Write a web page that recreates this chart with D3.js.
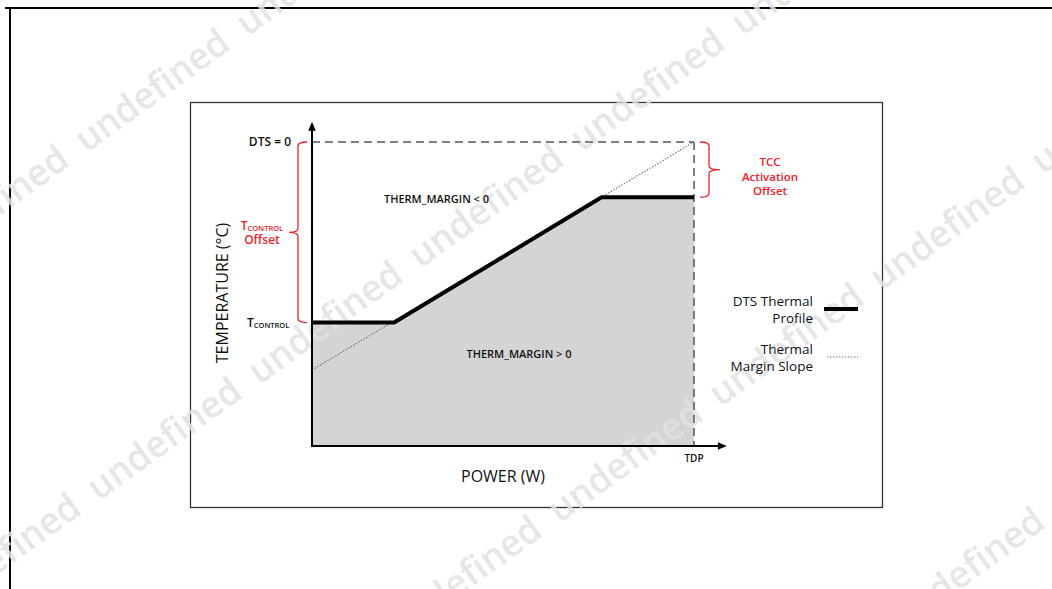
<!DOCTYPE html>
<html>
<head>
<meta charset="utf-8">
<style>
  body { margin: 0; background: #fff; }
  svg { display: block; }
  text { font-family: "Open Sans", "DejaVu Sans", sans-serif; }
</style>
</head>
<body>
<div id="chart"></div>
<script src="https://cdn.jsdelivr.net/npm/d3@7"></script>
<script>

// ---- data (power as fraction of TDP, temperature as fraction of DTS = 0) ----
var profilePower = [0, 0.215, 0.758, 1];
var profileTemp  = [0.406, 0.406, 0.818, 0.818];
var slopePower   = [0, 1];
var slopeTemp    = [0.25, 1];
var dtsZero      = 1;
var tControl     = 0.406;
var tdp          = 1;
var axisEnd      = [1.086, 1.067];   // arrow tips, x then y

var W = 1052, H = 589;

var svg = d3.select("#chart").append("svg")
    .attr("width", W)
    .attr("height", H);

// page frame
svg.append("line").attr("x1", 5).attr("x2", W).attr("y1", 8).attr("y2", 8)
    .attr("stroke", "#000").attr("stroke-width", 2.2);
svg.append("line").attr("x1", 10).attr("x2", 10).attr("y1", 8).attr("y2", H)
    .attr("stroke", "#000").attr("stroke-width", 2);

// figure box
svg.append("rect")
    .attr("x", 190.5).attr("y", 102.5)
    .attr("width", 692).attr("height", 405)
    .attr("fill", "none").attr("stroke", "#333").attr("stroke-width", 1.3);

var x = d3.scaleLinear().domain([0, 1]).range([312, 694]);
var y = d3.scaleLinear().domain([0, 1]).range([446, 142]);

var profile = profilePower.map(function(p, i) { return [p, profileTemp[i]]; });
var slope = slopePower.map(function(p, i) { return [p, slopeTemp[i]]; });

// shaded region under the profile
var area = d3.area()
    .x(function(d) { return x(d[0]); })
    .y0(y(0))
    .y1(function(d) { return y(d[1]); });

svg.append("path")
    .datum(profile)
    .attr("d", area)
    .attr("fill", "#d4d4d4");

// watermark
var wmIntercepts = [202, 559, 914, 1269],
    wmStart = [80, 92, 70, 90],
    wmSlope = 0.722,
    wmPeriod = 161,
    wmAngle = -Math.atan(wmSlope) * 180 / Math.PI;

var wm = svg.append("g").attr("class", "watermark");
wmIntercepts.forEach(function(c, li) {
  for (var k = -8; k < 8; k++) {
    var px = wmStart[li] + k * wmPeriod;
    var py = c - wmSlope * px;
    if (px > W + 50 || px < -300 || py < -200 || py > H + 300) continue;
    wm.append("text")
      .attr("transform", "translate(" + px + "," + py + ") rotate(" + wmAngle + ")")
      .attr("dy", "0.3em")
      .attr("font-size", 37)
      .attr("font-weight", 600)
      .attr("textLength", 180)
      .attr("lengthAdjust", "spacingAndGlyphs")
      .attr("fill", "#e2e2e2")
      .attr("fill-opacity", 0.85)
      .text("undefined");
  }
});

// dashed DTS = 0 and TDP guides
svg.append("line")
    .attr("x1", x(0)).attr("x2", x(tdp))
    .attr("y1", y(dtsZero)).attr("y2", y(dtsZero))
    .attr("stroke", "#555").attr("stroke-width", 1.5)
    .attr("stroke-dasharray", "8,5");
svg.append("line")
    .attr("x1", x(tdp)).attr("x2", x(tdp))
    .attr("y1", y(dtsZero)).attr("y2", y(0))
    .attr("stroke", "#555").attr("stroke-width", 1.5)
    .attr("stroke-dasharray", "8,5");

// thermal margin slope
var line = d3.line()
    .x(function(d) { return x(d[0]); })
    .y(function(d) { return y(d[1]); });

svg.append("path")
    .datum(slope)
    .attr("d", line)
    .attr("fill", "none")
    .attr("stroke", "#777")
    .attr("stroke-width", 1.2)
    .attr("stroke-dasharray", "1.5,1.5");

// axes with arrows
svg.append("line")
    .attr("x1", x(0)).attr("x2", x(axisEnd[0]) - 6)
    .attr("y1", y(0)).attr("y2", y(0))
    .attr("stroke", "#000").attr("stroke-width", 2);
svg.append("line")
    .attr("x1", x(0)).attr("x2", x(0))
    .attr("y1", y(0) + 1).attr("y2", y(axisEnd[1]) + 6)
    .attr("stroke", "#000").attr("stroke-width", 2);

var xt = x(axisEnd[0]), yt = y(axisEnd[1]);
svg.append("path")
    .attr("d", "M" + xt + "," + y(0) + "L" + (xt - 9) + "," + (y(0) - 3.8) + "L" + (xt - 9) + "," + (y(0) + 3.8) + "Z")
    .attr("fill", "#000");
svg.append("path")
    .attr("d", "M" + x(0) + "," + yt + "L" + (x(0) - 3.8) + "," + (yt + 9) + "L" + (x(0) + 3.8) + "," + (yt + 9) + "Z")
    .attr("fill", "#000");

// DTS thermal profile
svg.append("path")
    .datum(profile)
    .attr("d", line)
    .attr("fill", "none")
    .attr("stroke", "#000")
    .attr("stroke-width", 4)
    .attr("stroke-linejoin", "round");

// red braces
var red = "#ee2028";
function brace(xv, y1, y2, dir, tip) {
  // dir = -1 tip points left, +1 tip points right
  var ym = (y1 + y2) / 2, r = 4;
  var xh = xv - dir * 9;    // hook end
  return "M" + xh + "," + y1 +
    "Q" + xv + "," + y1 + " " + xv + "," + (y1 + r) +
    "L" + xv + "," + (ym - r) +
    "Q" + xv + "," + ym + " " + (xv + dir * tip) + "," + ym +
    "Q" + xv + "," + ym + " " + xv + "," + (ym + r) +
    "L" + xv + "," + (y2 - r) +
    "Q" + xv + "," + y2 + " " + xh + "," + y2;
}
svg.append("path")
    .attr("d", brace(298, y(dtsZero), y(tControl), -1, 9))
    .attr("fill", "none").attr("stroke", red).attr("stroke-width", 1.3);
svg.append("path")
    .attr("d", brace(709, y(dtsZero), y(profileTemp[3]), 1, 11))
    .attr("fill", "none").attr("stroke", red).attr("stroke-width", 1.3);

// labels
function label(tx, ty, str, size, anchor, fill, weight) {
  return svg.append("text")
    .attr("x", tx).attr("y", ty)
    .attr("font-size", size)
    .attr("text-anchor", anchor || "middle")
    .attr("fill", fill || "#111")
    .attr("font-weight", weight || 400)
    .text(str);
}

label(291, y(dtsZero) + 4, "DTS = 0", 12, "end", "#111", 600);

var tc = svg.append("text").attr("x", 247).attr("y", y(tControl) + 4)
    .attr("fill", "#111").attr("font-weight", 600);
tc.append("tspan").attr("font-size", 12).text("T");
tc.append("tspan").attr("font-size", 7.5).attr("dy", 1).text("CONTROL");

var tr = svg.append("text").attr("x", 262).attr("y", 230)
    .attr("text-anchor", "middle").attr("fill", red).attr("font-weight", 600);
tr.append("tspan").attr("font-size", 12).text("T");
tr.append("tspan").attr("font-size", 7.5).attr("dy", 1).text("CONTROL");
label(262, 244, "Offset", 12, "middle", red, 600);

label(770, 166, "TCC", 11.5, "middle", red, 600);
label(770, 181, "Activation", 11.5, "middle", red, 600);
label(770, 195, "Offset", 11.5, "middle", red, 600);

label(436.5, 202.5, "THERM_MARGIN < 0", 11, "middle", "#111", 600);
label(519, 358, "THERM_MARGIN > 0", 11, "middle", "#111", 600);

label(x(tdp), 462, "TDP", 10, "middle", "#111", 600);
label(503, 482, "POWER (W)", 16, "middle", "#111", 400);

svg.append("text")
    .attr("transform", "translate(228,293) rotate(-90)")
    .attr("text-anchor", "middle")
    .attr("font-size", 16)
    .attr("fill", "#111")
    .text("TEMPERATURE (°C)");

// legend
label(813, 306, "DTS Thermal", 13.5, "end", "#111", 400);
label(813, 323, "Profile", 13.5, "end", "#111", 400);
svg.append("line").attr("x1", 824).attr("x2", 858).attr("y1", 309).attr("y2", 309)
    .attr("stroke", "#000").attr("stroke-width", 4);

label(813, 354, "Thermal", 13.5, "end", "#111", 400);
label(813, 371, "Margin Slope", 13.5, "end", "#111", 400);
svg.append("line").attr("x1", 827).attr("x2", 858).attr("y1", 357).attr("y2", 357)
    .attr("stroke", "#777").attr("stroke-width", 1.2)
    .attr("stroke-dasharray", "1.5,1.5");

</script>
</body>
</html>
